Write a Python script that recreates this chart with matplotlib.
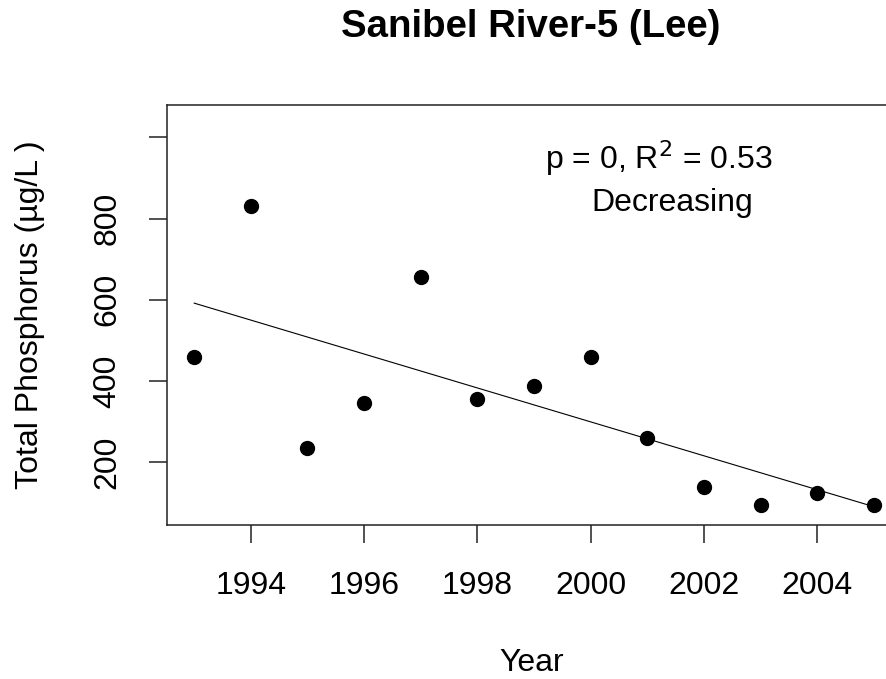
import numpy as np
import matplotlib
matplotlib.use("Agg")
import matplotlib.pyplot as plt

plt.rcParams["font.family"] = ["Liberation Sans", "DejaVu Sans"]

# data
years = [1993, 1994, 1995, 1996, 1997, 1998, 1999, 2000, 2001, 2002, 2003, 2004, 2005]
tp = [460, 830, 235, 345, 655, 355, 389, 459, 260, 139, 94, 124, 94]
xticks = [1994, 1996, 1998, 2000, 2002, 2004]
yticks = [200, 400, 600, 800, 1000]
ytick_labels = ["200", "400", "600", "800", ""]

x = np.array(years, dtype=float)
y = np.array(tp, dtype=float)
slope, icpt = np.polyfit(x, y, 1)
fit = icpt + slope * x

fig = plt.figure(figsize=(8.87, 6.79), dpi=100)
ax = fig.add_axes([0.1883, 0.2268, 0.8275, 0.619])

ax.plot(x, fit, color="black", lw=0.8)
ax.plot(x, y, "o", color="black", ms=10)

ax.set_xlim(1992.52, 2005.48)
ax.set_ylim(46, 1080)
ax.set_xticks(xticks)
ax.set_xticklabels([str(t) for t in xticks])
ax.set_yticks(yticks)
ax.set_yticklabels(ytick_labels, rotation=90, va="center")

for s in ax.spines.values():
    s.set_linewidth(1.1)
    s.set_color("#222222")
ax.tick_params(length=13, width=1.1, color="#222222", labelsize=23)
ax.tick_params(axis="x", pad=20)
ax.tick_params(axis="y", pad=19)

ax.text(2001.21, 923, r"p = 0, R$^2$ = 0.53", fontsize=23, ha="center", va="baseline")
ax.text(2001.44, 819, "Decreasing", fontsize=23, ha="center", va="baseline")

fig.text(0.5985, 0.946, "Sanibel River-5 (Lee)", fontsize=27.6, fontweight="bold",
         ha="center", va="baseline")
fig.text(0.5995, 1 - 671 / 679, "Year", fontsize=23, ha="center", va="baseline")
fig.text(30 / 887, 1 - 315 / 679, "Total Phosphorus (µg/L )", fontsize=23,
         rotation=90, ha="center", va="center")

fig.savefig("out.png", dpi=100)
